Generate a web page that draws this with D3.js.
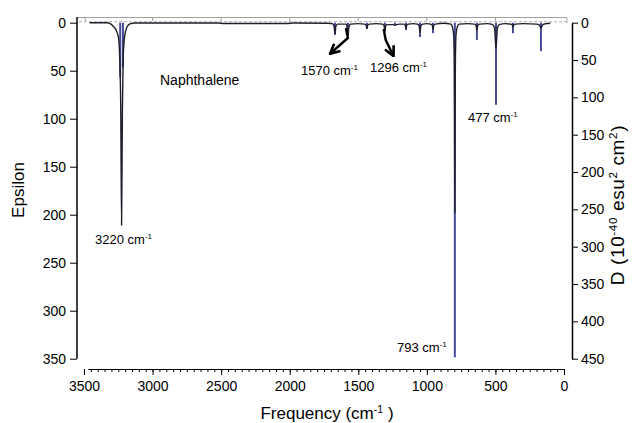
<!DOCTYPE html>
<html>
<head>
<meta charset="utf-8">
<script src="https://cdn.jsdelivr.net/npm/d3@7"></script>
<style>
body { margin: 0; background: #fff; }
svg { font-family: "Liberation Sans", Arial, sans-serif; }
</style>
</head>
<body>
<div id="vis"></div>
<script>
const width = 633;
const height = 423;

// broadened spectrum: [frequency cm-1, epsilon]
const spectrum = [
	[3460,0],[3330,0],[3310,1],[3285,4],[3262,9],[3248,16],[3240,35],[3232,90],[3226,211],[3220,90],[3214,35],[3205,16],[3195,8],[3180,3],[3160,1],[3130,0.3],
	[2520,0.3],[2480,0.8],[2020,0.8],[1980,0.3],
	[1720,0.5],[1688,1],[1676,4],[1670,12],[1664,4],[1652,1.5],
	[1600,1.5],[1588,1.5],[1581,5],[1575,14],[1569,5],[1557,1.5],
	[1500,1],[1455,1.5],[1443,2.5],[1437,6],[1431,2.5],[1419,1.5],
	[1370,1],[1324,1.5],[1312,3],[1306,8.5],[1300,3],[1288,2],
	[1260,2],[1245,2],[1233,2.5],[1221,2],[1200,1.5],
	[1170,1.5],[1158,2.5],[1152,6],[1146,2.5],[1134,1.5],
	[1100,1],[1068,1.5],[1056,3.5],[1050,10],[1044,3.5],[1032,1.5],
	[1000,1],[973,1.5],[961,2.5],[955,7],[949,2.5],[937,1.5],
	[880,0.5],[825,1.5],[815,4],[805,12],[800,40],[798,110],[796,198],[794,110],[792,40],[787,12],[777,4],[765,1.5],
	[700,1],[653,1.5],[641,3],[635,8],[629,3],[617,1.5],
	[560,1],[520,2],[506,6],[496,27],[486,6],[472,2],
	[430,1],[390,1.5],[378,2],[372,4.5],[366,2],[354,1.5],
	[300,1],[200,1.5],[182,2],[168,5.5],[154,2],[130,1],[100,0.5]
];

// computed transitions: frequency and dipole strength D (10^-40 esu^2 cm^2)
const stickFreq = [3236, 3216, 1670, 1575, 1437, 1306, 1233, 1152, 1050, 955, 796, 635, 496, 372, 168];
const stickD    = [73, 60, 16, 17, 8, 12, 4, 10, 19, 14, 448, 23, 110, 14, 38];

const xTicks = [3500, 3000, 2500, 2000, 1500, 1000, 500, 0];
const epsTicks = [0, 50, 100, 150, 200, 250, 300, 350];
const dTicks = [0, 50, 100, 150, 200, 250, 300, 350, 400, 450];

const x = d3.scaleLinear().domain([3500, 0]).range([84, 564]);
const yEps = d3.scaleLinear().domain([0, 350]).range([22.7, 358.7]);
const yD = d3.scaleLinear().domain([0, 450]).range([22.7, 358.7]);

const svg = d3.select("#vis")
	.append("svg")
		.attr("width", width)
		.attr("height", height);

svg.append("defs").append("marker")
	.attr("id", "arrow")
	.attr("viewBox", "0 0 10 10")
	.attr("refX", 8).attr("refY", 5)
	.attr("markerUnits", "userSpaceOnUse")
	.attr("markerWidth", 12).attr("markerHeight", 12)
	.attr("orient", "auto")
	.append("path")
		.attr("d", "M1,1 L9,5 L1,9")
		.attr("fill", "none")
		.attr("stroke", "#000")
		.attr("stroke-width", 2.2);

// grey frame above the plot
svg.append("line")
	.attr("x1", 78).attr("x2", 567)
	.attr("y1", 17.5).attr("y2", 17.5)
	.attr("stroke", "#a0a0a0");
svg.selectAll("line.top-tick")
	.data(xTicks.slice(1, -1).concat([3490]))
	.join("line")
		.attr("class", "top-tick")
		.attr("x1", d => x(d)).attr("x2", d => x(d))
		.attr("y1", 17.5).attr("y2", 21)
		.attr("stroke", "#a0a0a0");
svg.append("line")
	.attr("x1", 567).attr("x2", 567)
	.attr("y1", 17.5).attr("y2", 23)
	.attr("stroke", "#b0b0b0");

// dashed zero line
svg.append("line")
	.attr("x1", 79).attr("x2", 567)
	.attr("y1", yEps(0) - 1).attr("y2", yEps(0) - 1)
	.attr("stroke", "#b0b0b0")
	.attr("stroke-dasharray", "3,2");

// sticks
svg.append("g")
	.selectAll("line")
	.data(stickFreq)
	.join("line")
		.attr("x1", d => x(d)).attr("x2", d => x(d))
		.attr("y1", yD(0))
		.attr("y2", (d, i) => yD(stickD[i]))
		.attr("stroke", "#464b93")
		.attr("stroke-width", 2);

// broadened spectrum
const line = d3.line()
	.x(d => x(d[0]))
	.y(d => yEps(d[1]))
	.curve(d3.curveMonotoneX);

svg.append("path")
	.datum(spectrum)
	.attr("d", line)
	.attr("fill", "none")
	.attr("stroke", "#1e1e2a")
	.attr("stroke-width", 1.4);

// axes
const left = svg.append("g")
	.attr("transform", "translate(77,0)")
	.call(d3.axisLeft(yEps).tickValues(epsTicks).tickSize(7).tickSizeOuter(0).tickPadding(4));
const right = svg.append("g")
	.attr("transform", "translate(572,0)")
	.call(d3.axisRight(yD).tickValues(dTicks).tickSize(6).tickSizeOuter(0).tickPadding(3));
const bottom = svg.append("g")
	.attr("transform", "translate(0,369)")
	.call(d3.axisBottom(x).tickValues(xTicks).tickSize(6).tickPadding(6).tickFormat(d3.format("d")));
svg.append("g")
	.attr("transform", "translate(0,369)")
	.call(d3.axisBottom(x).tickValues(d3.range(50, 3500, 50)).tickSize(3).tickFormat(""))
	.select(".domain").remove();
bottom.select(".domain").remove();
svg.append("line")
	.attr("x1", x(3468)).attr("x2", x(0))
	.attr("y1", 369.5).attr("y2", 369.5)
	.attr("stroke", "#000");

[left, right, bottom].forEach(g => {
	g.selectAll("text").attr("font-size", 14).attr("font-family", "Liberation Sans, Arial, sans-serif").attr("fill", "#000");
	g.selectAll("line, path").attr("stroke", "#000");
});
left.select(".domain").attr("stroke-width", 1.5).attr("d", "M0,17V358.7");
right.select(".domain").attr("stroke-width", 1.5);

// text with superscripts
function richText (sel, parts, size) {
	parts.forEach(p => {
		const sup = p[1];
		sel.append("tspan")
			.attr("dy", sup ? -size * 0.38 : (p[2] ? size * 0.38 : null))
			.attr("font-size", sup ? size * 0.62 : size)
			.text(p[0]);
	});
	return sel;
}

svg.append("text")
	.attr("transform", "translate(24,190) rotate(-90)")
	.attr("text-anchor", "middle")
	.attr("font-size", 17)
	.text("Epsilon");

richText(svg.append("text")
	.attr("x", 327).attr("y", 419)
	.attr("text-anchor", "middle"),
	[["Frequency (cm", false], ["-1", true], [" )", false, true]], 17);

richText(svg.append("text")
	.attr("transform", "translate(624,205) rotate(-90)")
	.attr("text-anchor", "middle")
	.attr("letter-spacing", 0.6),
	[["D (10", false], ["-40", true], [" esu", false, true], ["2", true], [" cm", false, true], ["2", true], [")", false, true]], 19);

svg.append("text")
	.attr("x", 160).attr("y", 85)
	.attr("font-size", 14)
	.text("Naphthalene");

const labels = [
	["3220", 95, 244],
	["1570", 301, 75],
	["1296", 370, 72],
	["477", 468, 122],
	["793", 397, 352]
];
labels.forEach(l => {
	richText(svg.append("text").attr("x", l[1]).attr("y", l[2]),
		[[l[0] + " cm", false], ["-1", true]], 13);
});

// arrows
svg.append("path")
	.attr("d", `M${x(1590)},28 L${x(1576)},38 L331,53`)
	.attr("fill", "none").attr("stroke", "#000").attr("stroke-width", 2.4)
	.attr("marker-end", "url(#arrow)");
svg.append("path")
	.attr("d", `M${x(1315)},29 L${x(1300)},40 L393,55`)
	.attr("fill", "none").attr("stroke", "#000").attr("stroke-width", 2.4)
	.attr("marker-end", "url(#arrow)");
</script>
</body>
</html>
